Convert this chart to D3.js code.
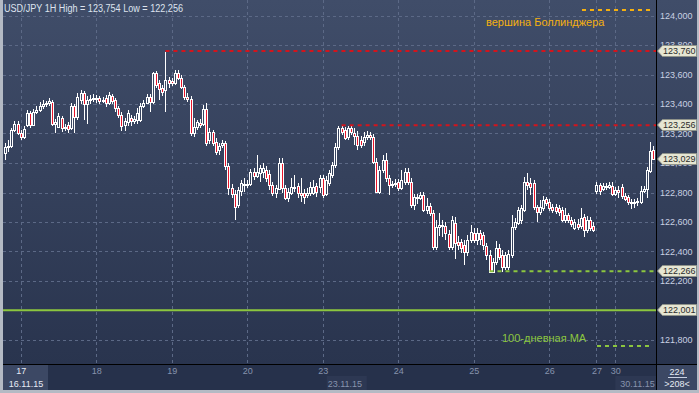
<!DOCTYPE html>
<html>
<head>
<meta charset="utf-8">
<script src="https://cdn.jsdelivr.net/npm/d3@7"></script>
<style>
  body { margin: 0; background: #b4bac4; }
  svg { display: block; font-family: "Liberation Sans", Arial, sans-serif; }
</style>
</head>
<body>
<svg width="699" height="393"></svg>
<script>
// hourly USD/JPY candles, 16.11.15 19:00 .. 30.11.15
var open = [
  123.068,123.108,123.115,123.224,123.264,123.203,123.176,123.258,123.339,123.258,
  123.346,123.359,123.386,123.400,123.407,123.413,123.264,123.244,123.305,123.237,
  123.258,123.237,123.386,123.312,123.427,123.474,123.400,123.427,123.434,123.441,
  123.441,123.420,123.441,123.407,123.454,123.427,123.373,123.325,123.258,123.278,
  123.305,123.285,123.291,123.291,123.386,123.407,123.447,123.413,123.610,123.542,
  123.508,123.495,123.563,123.556,123.542,123.610,123.576,123.515,123.447,123.434,
  123.203,123.244,123.271,123.264,123.366,123.156,123.210,123.142,123.088,123.122,
  123.135,122.980,122.830,122.790,122.715,122.810,122.858,122.851,122.858,122.939,
  122.912,122.932,122.939,122.952,122.925,122.851,122.796,122.824,123.000,122.830,
  122.763,122.796,122.837,122.844,122.796,122.796,122.783,122.796,122.796,122.844,
  122.837,122.898,122.790,122.864,122.919,122.986,123.108,123.237,123.224,123.176,
  123.237,123.203,123.183,123.156,123.142,123.176,123.190,123.176,123.007,122.803,
  122.952,123.020,122.898,122.851,122.858,122.871,122.830,122.871,122.939,122.871,
  122.715,122.769,122.763,122.783,122.681,122.708,122.661,122.430,122.566,122.573,
  122.573,122.518,122.430,122.593,122.464,122.464,122.444,122.396,122.478,122.525,
  122.478,122.525,122.512,122.437,122.376,122.261,122.329,122.424,122.376,122.295,
  122.295,122.376,122.566,122.593,122.613,122.681,122.871,122.864,122.864,122.702,
  122.668,122.695,122.756,122.735,122.702,122.702,122.695,122.681,122.613,122.647,
  122.613,122.559,122.586,122.573,122.634,122.546,122.613,122.573,122.810,122.851,
  122.824,122.844,122.837,122.844,122.790,122.817,122.837,122.776,122.769,122.735,
  122.729,122.735,122.735,122.810,122.824,122.946,123.088
];
var high = [
  123.135,123.156,123.237,123.285,123.285,123.224,123.251,123.359,123.352,123.366,
  123.386,123.413,123.427,123.420,123.441,123.427,123.298,123.339,123.318,123.264,
  123.278,123.407,123.400,123.474,123.495,123.488,123.454,123.461,123.468,123.461,
  123.454,123.447,123.461,123.481,123.468,123.441,123.386,123.346,123.305,123.359,
  123.325,123.318,123.373,123.407,123.427,123.468,123.468,123.617,123.624,123.563,
  123.529,123.754,123.583,123.576,123.630,123.630,123.597,123.529,123.474,123.454,
  123.305,123.291,123.298,123.393,123.407,123.237,123.224,123.169,123.135,123.156,
  123.149,123.000,122.858,122.817,122.837,122.885,122.898,122.885,122.959,122.966,
  123.054,122.986,123.000,122.980,122.952,122.871,122.851,123.034,123.034,122.851,
  122.830,122.898,122.919,122.864,122.898,122.824,122.830,122.871,122.885,122.864,
  122.919,122.919,122.912,122.952,123.007,123.135,123.251,123.256,123.244,123.251,
  123.251,123.237,123.217,123.183,123.210,123.217,123.210,123.196,123.034,122.980,
  123.054,123.068,122.919,122.878,122.891,122.891,122.952,122.966,122.966,122.898,
  122.790,122.790,122.803,122.803,122.763,122.729,122.681,122.613,122.661,122.613,
  122.600,122.546,122.640,122.634,122.505,122.485,122.478,122.512,122.580,122.559,
  122.559,122.546,122.532,122.458,122.410,122.356,122.471,122.451,122.410,122.396,
  122.410,122.647,122.627,122.702,122.715,122.905,122.932,122.898,122.885,122.715,
  122.749,122.776,122.769,122.756,122.722,122.722,122.715,122.702,122.695,122.661,
  122.634,122.620,122.620,122.695,122.654,122.640,122.634,122.600,122.871,122.864,
  122.864,122.864,122.871,122.871,122.837,122.844,122.858,122.796,122.783,122.756,
  122.756,122.763,122.844,122.844,122.973,123.142,123.115
];
var low = [
  123.020,123.074,123.102,123.210,123.190,123.156,123.163,123.244,123.237,123.251,
  123.332,123.346,123.366,123.380,123.386,123.251,123.203,123.237,123.210,123.217,
  123.203,123.224,123.203,123.291,123.400,123.291,123.264,123.400,123.413,123.407,
  123.400,123.407,123.380,123.393,123.400,123.346,123.305,123.217,123.217,123.251,
  123.251,123.264,123.264,123.278,123.373,123.400,123.346,123.400,123.508,123.427,
  123.454,123.346,123.508,123.522,123.529,123.563,123.502,123.427,123.413,123.183,
  123.176,123.224,123.237,123.251,123.115,123.129,123.115,123.054,123.054,123.102,
  122.952,122.783,122.763,122.613,122.695,122.776,122.803,122.830,122.844,122.885,
  122.898,122.871,122.898,122.871,122.817,122.776,122.763,122.817,122.796,122.749,
  122.735,122.783,122.803,122.763,122.735,122.722,122.763,122.776,122.783,122.769,
  122.796,122.763,122.776,122.844,122.898,122.966,123.088,123.190,123.156,123.156,
  123.190,123.122,123.088,123.102,123.115,123.156,123.156,122.993,122.796,122.790,
  122.932,122.871,122.783,122.830,122.837,122.810,122.817,122.851,122.851,122.695,
  122.681,122.722,122.749,122.668,122.654,122.640,122.410,122.410,122.505,122.498,
  122.478,122.410,122.410,122.349,122.410,122.390,122.308,122.369,122.458,122.458,
  122.444,122.444,122.410,122.342,122.256,122.258,122.308,122.342,122.261,122.275,
  122.275,122.356,122.546,122.580,122.586,122.668,122.817,122.783,122.681,122.600,
  122.647,122.674,122.708,122.674,122.661,122.654,122.640,122.600,122.593,122.593,
  122.566,122.546,122.546,122.552,122.498,122.525,122.539,122.532,122.790,122.783,
  122.810,122.817,122.824,122.776,122.776,122.763,122.756,122.742,122.715,122.688,
  122.695,122.708,122.722,122.796,122.763,122.932,123.020
];
var close = [
  123.108,123.115,123.224,123.264,123.203,123.176,123.230,123.339,123.258,123.346,
  123.359,123.386,123.400,123.407,123.420,123.264,123.278,123.318,123.237,123.244,
  123.230,123.386,123.312,123.447,123.474,123.400,123.427,123.434,123.441,123.434,
  123.420,123.427,123.407,123.461,123.420,123.373,123.325,123.251,123.285,123.339,
  123.285,123.298,123.339,123.386,123.407,123.447,123.413,123.610,123.529,123.502,
  123.481,123.563,123.542,123.542,123.610,123.576,123.515,123.447,123.434,123.203,
  123.244,123.278,123.258,123.366,123.135,123.210,123.135,123.074,123.115,123.135,
  122.980,122.830,122.790,122.702,122.817,122.864,122.851,122.858,122.939,122.912,
  122.939,122.966,122.966,122.898,122.851,122.796,122.830,123.000,122.830,122.763,
  122.803,122.837,122.830,122.796,122.783,122.769,122.796,122.837,122.837,122.803,
  122.898,122.783,122.885,122.932,122.986,123.108,123.237,123.210,123.169,123.237,
  123.210,123.183,123.122,123.122,123.176,123.190,123.176,123.007,122.803,122.952,
  123.020,122.898,122.851,122.858,122.864,122.830,122.885,122.939,122.871,122.715,
  122.769,122.763,122.783,122.681,122.708,122.661,122.430,122.566,122.580,122.580,
  122.525,122.430,122.613,122.458,122.444,122.424,122.396,122.478,122.532,122.478,
  122.525,122.485,122.444,122.376,122.261,122.329,122.424,122.363,122.295,122.376,
  122.383,122.566,122.600,122.681,122.695,122.871,122.851,122.837,122.702,122.668,
  122.702,122.749,122.729,122.695,122.681,122.674,122.668,122.613,122.647,122.613,
  122.586,122.600,122.566,122.627,122.546,122.613,122.559,122.546,122.851,122.810,
  122.844,122.837,122.851,122.790,122.817,122.803,122.776,122.756,122.735,122.729,
  122.735,122.742,122.810,122.824,122.952,123.081,123.029
];

// day ticks: candle index where each day starts
var dayLabels = ["17", "18", "19", "20", "23", "24", "25", "26", "27", "30"];
var dayStart = [5, 29, 53, 77, 101, 125, 149, 173, 188, 194];
var weekLabels = ["16.11.15", "23.11.15", "30.11.15"];
var weekStart = [0, 101, 194];

var priceTicks = [121.8, 122.0, 122.2, 122.4, 122.6, 122.8, 123.0, 123.2, 123.4, 123.6, 123.8, 124.0];

// horizontal levels: Bollinger top, resistance, support, 100-day MA
var levelValues = [123.760, 123.256, 122.266, 122.001];
var levelFrom = [51, 107, 154, null];
var levelColor = ["#d3141c", "#d3141c", "#8cc63f", "#8cc63f"];
var levelDash = ["4,4", "4,4", "4,4", null];

var legendText = ["вершина Боллинджера", "100-дневная МА"];
var legendColor = ["#f5b010", "#8cc63f"];

var barsInfo = ["224", ">208<"];

var svg = d3.select("svg"),
  width = 699,
  height = 393,
  plotLeft = 3,
  plotRight = 656,
  plotBottom = 364;

var fmt = function(v) { return d3.format(".3f")(v).replace(".", ","); };

var x = d3.scaleLinear().domain([0, close.length - 1]).range([5, 653.1]);
var y = d3.scaleLinear().domain([121.8, 124.0]).range([340, 15.5]);

var tagValues = levelValues.concat([close[close.length - 1]]);

var defs = svg.append("defs");
var grad = defs.append("linearGradient").attr("id", "bg")
  .attr("gradientUnits", "userSpaceOnUse")
  .attr("x1", 0).attr("y1", 0).attr("x2", 0).attr("y2", plotBottom);
grad.append("stop").attr("offset", 0).attr("stop-color", "#404d69");
grad.append("stop").attr("offset", 1).attr("stop-color", "#29344e");

// frame and panels
svg.append("rect").attr("width", width).attr("height", height).attr("fill", "#b4bac4");
svg.append("rect").attr("x", plotLeft).attr("y", 0)
  .attr("width", 697 - plotLeft).attr("height", plotBottom)
  .attr("fill", "url(#bg)");
svg.append("rect").attr("x", plotLeft).attr("y", plotBottom)
  .attr("width", 697 - plotLeft).attr("height", 390 - plotBottom)
  .attr("fill", "#26314b");

// grid
var grid = svg.append("g").attr("stroke", "#5c6986").attr("stroke-dasharray", "3,3")
  .attr("shape-rendering", "crispEdges");
grid.selectAll(".h").data(priceTicks).enter().append("line")
  .attr("x1", plotLeft).attr("x2", plotRight)
  .attr("y1", function(d) { return Math.round(y(d)) + 0.5; })
  .attr("y2", function(d) { return Math.round(y(d)) + 0.5; });
grid.selectAll(".v").data(dayStart).enter().append("line")
  .attr("y1", 0).attr("y2", plotBottom)
  .attr("x1", function(d) { return Math.round(x(d)) + 0.5; })
  .attr("x2", function(d) { return Math.round(x(d)) + 0.5; });

// candles
var idx = d3.range(close.length);
var candles = svg.append("g").attr("shape-rendering", "crispEdges");
candles.selectAll(".wick").data(idx).enter().append("rect")
  .attr("x", function(i) { return Math.round(x(i)); })
  .attr("y", function(i) { return Math.round(y(high[i])); })
  .attr("width", 1)
  .attr("height", function(i) { return Math.max(1, Math.round(y(low[i])) - Math.round(y(high[i]))); })
  .attr("fill", "#ffffff");

function bodyTop(i) { return Math.round(y(Math.max(open[i], close[i]))); }
function bodyHeight(i) { return Math.max(2, Math.round(y(Math.min(open[i], close[i]))) - bodyTop(i) + 1); }

candles.selectAll(".body").data(idx).enter().append("rect")
  .attr("x", function(i) { return Math.round(x(i)) - 1; })
  .attr("y", bodyTop)
  .attr("width", 3)
  .attr("height", bodyHeight)
  .attr("fill", "#ffffff");
candles.selectAll(".inner").data(idx.filter(function(i) { return bodyHeight(i) > 2; })).enter().append("rect")
  .attr("x", function(i) { return Math.round(x(i)); })
  .attr("y", function(i) { return bodyTop(i) + 1; })
  .attr("width", 1)
  .attr("height", function(i) { return bodyHeight(i) - 2; })
  .attr("fill", function(i) { return close[i] < open[i] ? "#e8152b" : "url(#bg)"; });

// level lines
var levels = svg.append("g");
levelValues.forEach(function(v, k) {
  var x0 = levelFrom[k] === null ? plotLeft : x(levelFrom[k]);
  levels.append("line")
    .attr("x1", x0).attr("x2", plotRight)
    .attr("y1", y(v)).attr("y2", y(v))
    .attr("stroke", levelColor[k]).attr("stroke-width", 2)
    .attr("stroke-dasharray", levelDash[k]);
});

// legend
svg.append("line").attr("x1", 582).attr("x2", 650).attr("y1", 10).attr("y2", 10)
  .attr("stroke", legendColor[0]).attr("stroke-width", 2).attr("stroke-dasharray", "4,4");
svg.append("text").attr("x", 486).attr("y", 26).attr("font-size", "11px")
  .attr("fill", legendColor[0]).text(legendText[0]);
svg.append("line").attr("x1", 597).attr("x2", 650).attr("y1", 346).attr("y2", 346)
  .attr("stroke", legendColor[1]).attr("stroke-width", 2).attr("stroke-dasharray", "4,4");
svg.append("text").attr("x", 502).attr("y", 342).attr("font-size", "11px")
  .attr("fill", legendColor[1]).text(legendText[1]);

// title
svg.append("text").attr("x", 4).attr("y", 12).attr("font-size", "10px")
  .attr("fill", "#dde3ee").attr("textLength", 179).attr("lengthAdjust", "spacingAndGlyphs")
  .text("USD/JPY 1H High = " + fmt(d3.max(high)) + " Low = " + fmt(d3.min(low)));

// separators
svg.append("line").attr("x1", plotRight + 0.5).attr("x2", plotRight + 0.5).attr("y1", 0).attr("y2", 390)
  .attr("stroke", "#000").attr("shape-rendering", "crispEdges");
svg.append("line").attr("x1", plotLeft).attr("x2", 697).attr("y1", plotBottom + 0.5).attr("y2", plotBottom + 0.5)
  .attr("stroke", "#000").attr("shape-rendering", "crispEdges");

// right axis (a label fully covered by a price tag is not drawn)
var yAxis = d3.axisRight(y).tickValues(priceTicks).tickSize(0).tickPadding(4)
  .tickFormat(function(d) {
    var hidden = tagValues.some(function(t) { return Math.abs(y(t) - y(d)) < 2; });
    return hidden ? "" : fmt(d);
  });
var ya = svg.append("g").attr("transform", "translate(" + plotRight + ",0)").call(yAxis);
ya.select(".domain").remove();
ya.selectAll("text").attr("font-family", "Liberation Sans, Arial, sans-serif")
  .attr("font-size", "9px").attr("fill", "#c9d1e3");

// price tags
var tags = svg.append("g").selectAll("g").data(tagValues).enter().append("g")
  .attr("transform", function(d) { return "translate(0," + Math.round(y(d)) + ")"; });
tags.append("path")
  .attr("d", "M657.5,0 L662.5,-5.5 L696.5,-5.5 L696.5,5.5 L662.5,5.5 Z")
  .attr("fill", "#e6e6d3").attr("stroke", "#8f938a");
tags.append("text").attr("x", 663).attr("y", 0).attr("dy", "0.35em")
  .attr("font-size", "9px").attr("fill", "#2b2b2b").text(fmt);

// bottom axis
svg.append("rect").attr("x", plotLeft).attr("y", plotBottom + 1).attr("width", 45).attr("height", 390 - plotBottom - 1)
  .attr("fill", "#3c4864");
svg.append("rect").attr("x", x(weekStart[1]) + 4).attr("y", 376).attr("width", 40).attr("height", 14)
  .attr("fill", "#2d3853");
svg.append("rect").attr("x", x(weekStart[2])).attr("y", 376).attr("width", plotRight - x(weekStart[2])).attr("height", 14)
  .attr("fill", "#2d3853");
svg.append("rect").attr("x", plotRight + 1).attr("y", plotBottom + 1).attr("width", 697 - plotRight - 1).attr("height", 390 - plotBottom - 1)
  .attr("fill", "#3c4864");

var xAxis = d3.axisBottom(x).tickValues(dayStart)
  .tickFormat(function(d, i) { return dayLabels[i]; }).tickSize(0).tickPadding(4);
var xa = svg.append("g").attr("transform", "translate(0," + plotBottom + ")").call(xAxis);
xa.select(".domain").remove();
xa.selectAll("text").attr("font-family", "Liberation Sans, Arial, sans-serif")
  .attr("font-size", "9px")
  .attr("fill", function(d, i) { return i === 0 ? "#e6ebf4" : "#8793ad"; });

svg.selectAll(".week").data(weekLabels).enter().append("text")
  .attr("x", function(d, i) { return i === 0 ? 26 : x(weekStart[i]) + 5; })
  .attr("y", 387)
  .attr("text-anchor", function(d, i) { return i === 0 ? "middle" : "start"; })
  .attr("font-size", "9px")
  .attr("fill", function(d, i) { return i === 0 ? "#e6ebf4" : "#8793ad"; })
  .text(function(d) { return d; });

svg.append("text").attr("x", 677).attr("y", 375).attr("text-anchor", "middle")
  .attr("font-size", "9px").attr("fill", "#e6ebf4").text(barsInfo[0]);
svg.append("line").attr("x1", 668).attr("x2", 687).attr("y1", 377.5).attr("y2", 377.5)
  .attr("stroke", "#c9d1e3");
svg.append("text").attr("x", 677).attr("y", 387).attr("text-anchor", "middle")
  .attr("font-size", "9px").attr("fill", "#e6ebf4").text(barsInfo[1]);
</script>
</body>
</html>
